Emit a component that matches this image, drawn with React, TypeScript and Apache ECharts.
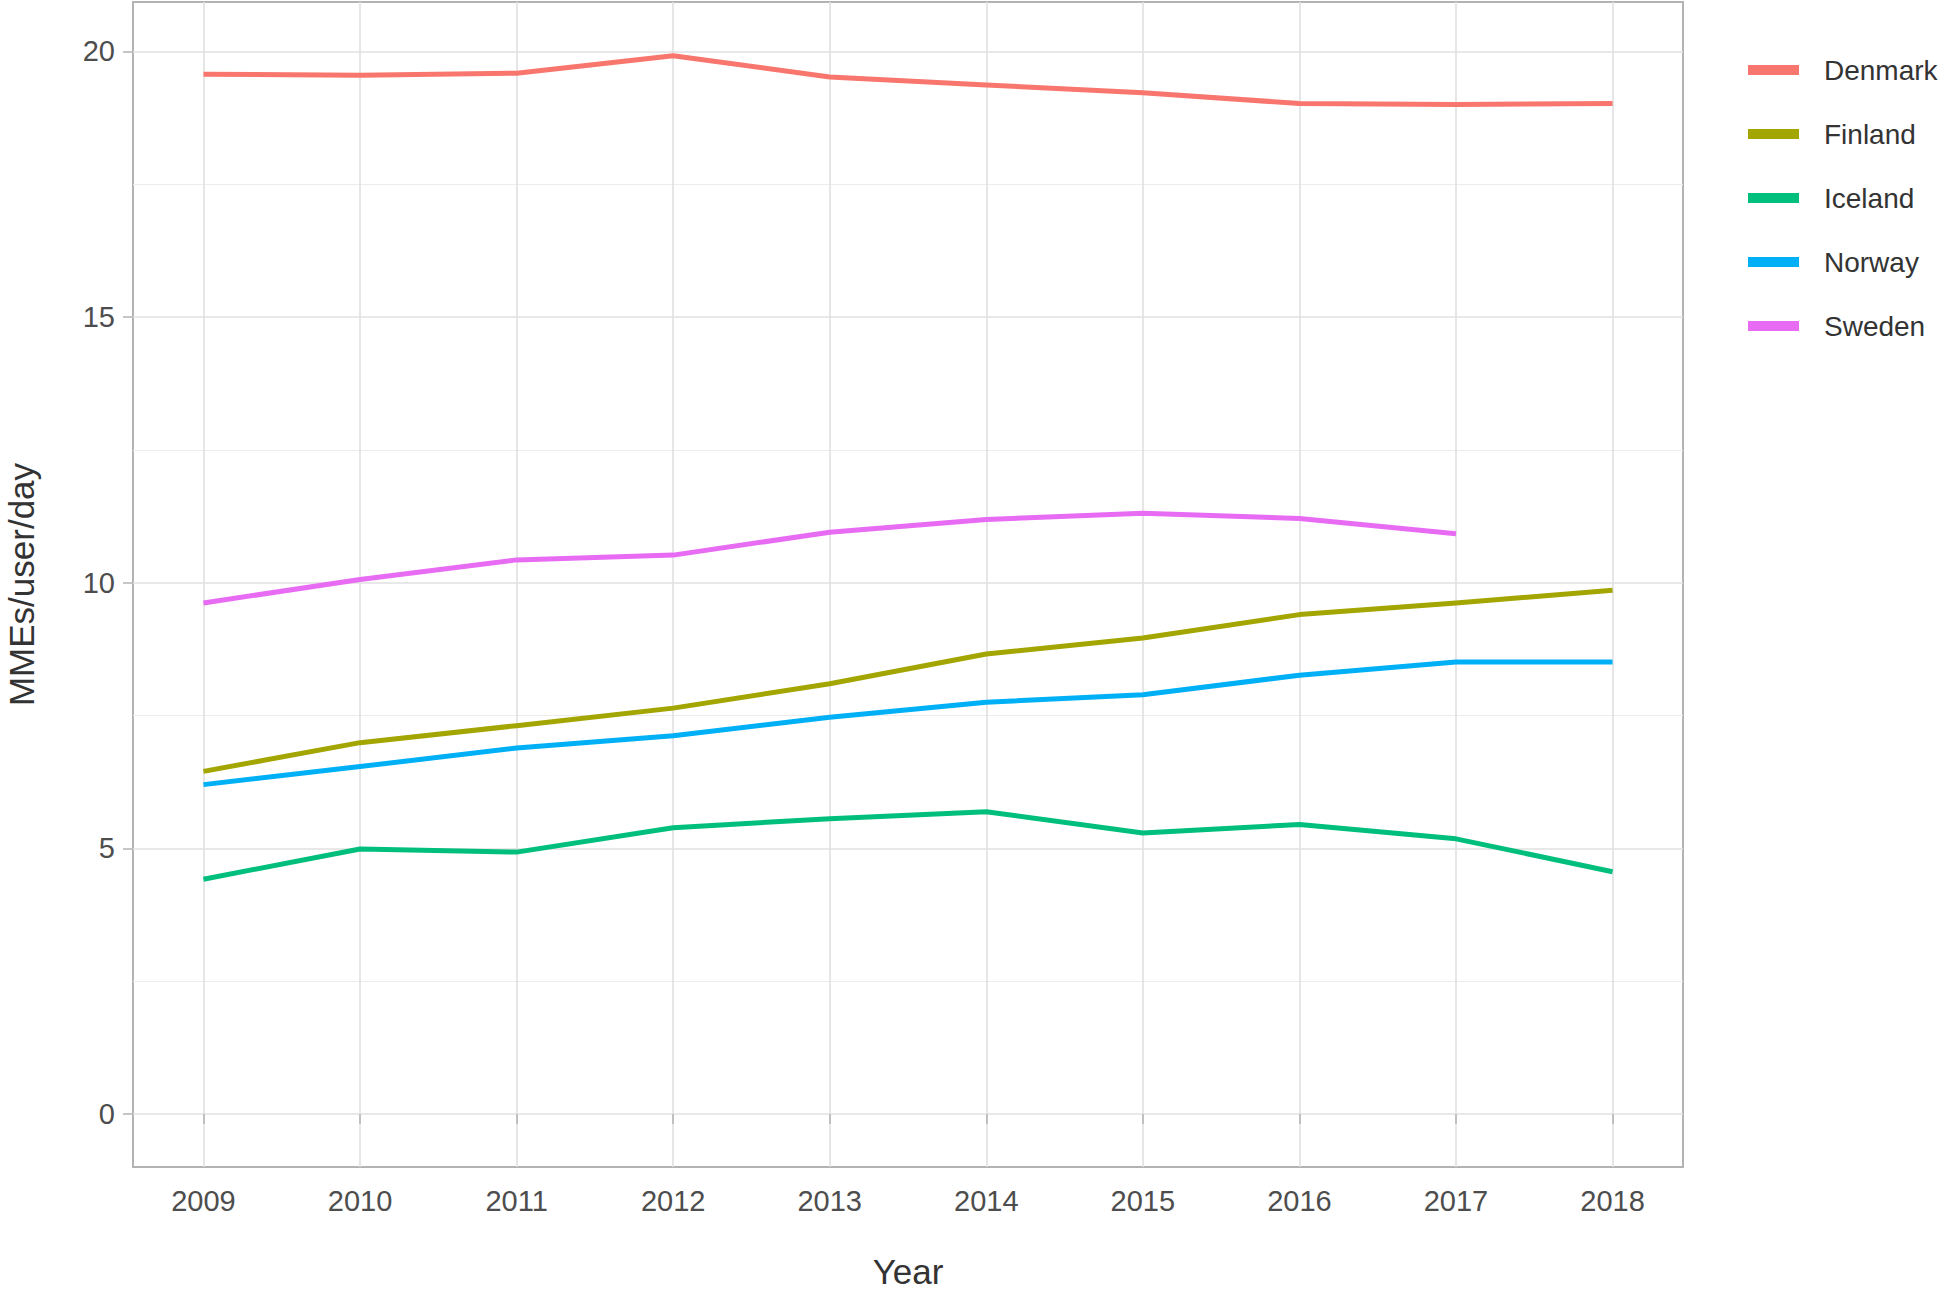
import React, { useEffect, useRef } from "react";
import * as echarts from "echarts";

const years = [2009, 2010, 2011, 2012, 2013, 2014, 2015, 2016, 2017, 2018];
const countries = ["Denmark", "Finland", "Iceland", "Norway", "Sweden"];
const colors = ["#F8766D", "#A3A500", "#00BF7D", "#00B0F6", "#E76BF3"];

const denmark = [19.57, 19.55, 19.59, 19.92, 19.52, 19.37, 19.22, 19.02, 19.0, 19.02];
const finland = [6.45, 6.99, 7.31, 7.64, 8.1, 8.66, 8.96, 9.4, 9.62, 9.86];
const iceland = [4.42, 4.99, 4.93, 5.39, 5.56, 5.69, 5.29, 5.45, 5.18, 4.56];
const norway = [6.2, 6.54, 6.89, 7.12, 7.47, 7.75, 7.89, 8.26, 8.51, 8.51];
const sweden = [9.62, 10.06, 10.43, 10.52, 10.95, 11.19, 11.31, 11.21, 10.92, null];

const yTicks = [0, 5, 10, 15, 20];
const yMinorTicks = [2.5, 7.5, 12.5, 17.5];

const FONT = "Liberation Sans, Arial, sans-serif";

export default function App() {
  const ref = useRef<HTMLDivElement>(null);

  useEffect(() => {
    if (!ref.current) return;
    const chart = echarts.init(ref.current, undefined, { renderer: "svg" });
    const allSeries = [denmark, finland, iceland, norway, sweden];
    const yMin = -0.9965;
    const yMax = 20.93;

    chart.setOption({
      animation: false,
      backgroundColor: "#ffffff",
      textStyle: { fontFamily: FONT },
      grid: {
        left: 133,
        right: 261,
        top: 2,
        bottom: 125,
        show: true,
        borderColor: "#b3b3b3",
        borderWidth: 2,
        backgroundColor: "transparent",
        outerBoundsMode: "none",
        containLabel: false,
      },
      legend: {
        orient: "vertical",
        left: 1743,
        top: 48,
        icon: "rect",
        itemWidth: 51,
        itemHeight: 10,
        itemGap: 30,
        data: countries,
        textStyle: {
          fontSize: 28,
          color: "#333333",
          fontFamily: FONT,
          lineHeight: 34,
          padding: [0, 0, 0, 20],
        },
      },
      xAxis: {
        type: "value",
        min: 2008.55,
        max: 2018.45,
        name: "Year",
        nameLocation: "middle",
        nameGap: 89,
        nameTextStyle: { fontSize: 35, lineHeight: 30, color: "#333333", fontFamily: FONT },
        axisLine: { show: false },
        axisTick: {
          show: true,
          length: 10,
          customValues: years,
          lineStyle: { color: "#b3b3b3", width: 1.5 },
        },
        axisLabel: {
          customValues: years,
          fontSize: 29,
          color: "#4d4d4d",
          margin: 19,
          fontFamily: FONT,
          formatter: (v: number) => String(v),
        },
        splitLine: { show: true, lineStyle: { color: "#e0e0e0", width: 1.6 } },
      },
      yAxis: [
        {
          type: "value",
          min: yMin,
          max: yMax,
          name: "MMEs/user/day",
          nameLocation: "middle",
          nameGap: 97,
          nameRotate: 90,
          nameTextStyle: { fontSize: 35, lineHeight: 30, color: "#333333", fontFamily: FONT },
          axisLine: { show: false },
          axisTick: {
            show: true,
            length: 10,
            customValues: yTicks,
            lineStyle: { color: "#b3b3b3", width: 1.5 },
          },
          axisLabel: {
            customValues: yTicks,
            fontSize: 29,
            color: "#4d4d4d",
            margin: 18,
            fontFamily: FONT,
            formatter: (v: number) => String(v),
          },
          splitLine: { show: true, lineStyle: { color: "#e0e0e0", width: 1.6 } },
        },
        {
          type: "value",
          min: yMin,
          max: yMax,
          position: "left",
          axisLine: { show: false },
          axisTick: { show: false, customValues: yMinorTicks },
          axisLabel: { show: false, customValues: yMinorTicks },
          splitLine: { show: true, lineStyle: { color: "#ececec", width: 1 } },
        },
      ],
      series: countries.map((name, i) => ({
        name,
        type: "line",
        yAxisIndex: 0,
        showSymbol: false,
        symbol: "none",
        color: colors[i],
        lineStyle: { width: 5, color: colors[i], join: "round" },
        data: years
          .map((y, j) => [y, allSeries[i][j]])
          .filter((p) => p[1] !== null && p[1] !== undefined),
      })),
    });

    return () => chart.dispose();
  }, []);

  return (
    <div
      ref={ref}
      style={{ position: "absolute", left: 0, top: 0, width: 1944, height: 1292 }}
    />
  );
}
